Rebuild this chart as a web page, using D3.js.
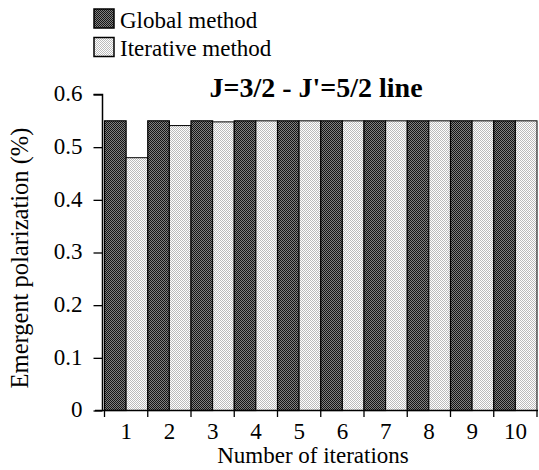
<!DOCTYPE html>
<html><head><meta charset="utf-8">
<script src="https://cdn.jsdelivr.net/npm/d3@7"></script>
<style>body{margin:0;background:#fff}svg{display:block}text{font-family:"Liberation Serif","Times New Roman",serif;fill:#000}</style>
</head><body>
<script>
const iterations = ["1","2","3","4","5","6","7","8","9","10"];
const globalMethod = [0.55,0.55,0.55,0.55,0.55,0.55,0.55,0.55,0.55,0.55];
const iterativeMethod = [0.48,0.541,0.548,0.55,0.55,0.55,0.55,0.55,0.55,0.55];
const seriesNames = ["Global method","Iterative method"];
const yTicks = [0,0.1,0.2,0.3,0.4,0.5,0.6];
const title = "J=3/2 - J'=5/2 line";
const xTitle = "Number of iterations";
const yTitle = "Emergent polarization (%)";

const W=539,H=470;
const svg=d3.select("body").append("svg").attr("width",W).attr("height",H);
const defs=svg.append("defs");
function pat(id,a,b){
  const p=defs.append("pattern").attr("id",id).attr("width",2).attr("height",2).attr("patternUnits","userSpaceOnUse");
  p.append("rect").attr("width",2).attr("height",2).attr("fill",a);
  p.append("rect").attr("width",1).attr("height",1).attr("fill",b);
  p.append("rect").attr("x",1).attr("y",1).attr("width",1).attr("height",1).attr("fill",b);
}
pat("darkP","#808080","#151515");
pat("lightP","#ffffff","#bcbcbc");
const fills=["url(#darkP)","url(#lightP)"];

const x=d3.scaleBand().domain(iterations).range([104.5,537]).padding(0);
const xs=d3.scaleBand().domain([0,1]).range([0,x.bandwidth()]);
const y=d3.scaleLinear().domain([0,0.6]).range([410.5,94.5]);

const data=iterations.map((k,i)=>({k,v:[globalMethod[i],iterativeMethod[i]]}));
const g=svg.append("g");
data.forEach(d=>{
  d.v.forEach((v,j)=>{
    g.append("rect").attr("x",x(d.k)+xs(j)).attr("y",y(v))
     .attr("width",xs.bandwidth()).attr("height",y(0)-y(v))
     .attr("fill",fills[j]).attr("stroke","#000").attr("stroke-width",j===0?1.2:1);
  });
});

// y axis
const ya=svg.append("g").attr("transform","translate(102.5,0)")
  .call(d3.axisLeft(y).tickValues(yTicks).tickSize(9).tickPadding(11).tickFormat(d=>d===0?"0":d3.format(".1f")(d)));
ya.select(".domain").attr("stroke","#000").attr("stroke-width",1.5).attr("d","M-9,94.5H0V410.5");
ya.selectAll(".tick line").attr("stroke","#000").attr("stroke-width",1.3);
ya.selectAll(".tick text").attr("font-size",23).attr("dy","0.28em").style("font-family","Liberation Serif");

// x axis
const xa=svg.append("g").attr("transform","translate(0,410.5)")
  .call(d3.axisBottom(x).tickSize(0).tickPadding(12));
xa.select(".domain").attr("stroke","#000").attr("stroke-width",1.5).attr("d","M95,0H538");
xa.selectAll(".tick text").attr("font-size",23).attr("dy","0.71em").style("font-family","Liberation Serif");
const edges=iterations.map(k=>x(k)).concat([x(iterations[iterations.length-1])+x.bandwidth()]);
svg.append("g").selectAll("line").data(edges).join("line")
  .attr("x1",d=>d).attr("x2",d=>d).attr("y1",410.5).attr("y2",417)
  .attr("stroke","#000").attr("stroke-width",1.3);

svg.append("text").attr("x",313).attr("y",463).attr("text-anchor","middle").attr("font-size",23).text(xTitle);
svg.append("text").attr("transform","translate(28,258) rotate(-90)").attr("text-anchor","middle").attr("font-size",24.5).text(yTitle);
svg.append("text").attr("x",316).attr("y",97).attr("text-anchor","middle").attr("font-size",28).attr("font-weight","bold").text(title);

// legend
const lg=svg.append("g");
seriesNames.forEach((n,i)=>{
  lg.append("rect").attr("x",94).attr("y",9+i*28.5).attr("width",20).attr("height",19)
    .attr("fill",fills[i]).attr("stroke","#000").attr("stroke-width",1.5);
  lg.append("text").attr("x",120).attr("y",28+i*27.5).attr("font-size",23).text(n);
});
</script>
</body></html>
